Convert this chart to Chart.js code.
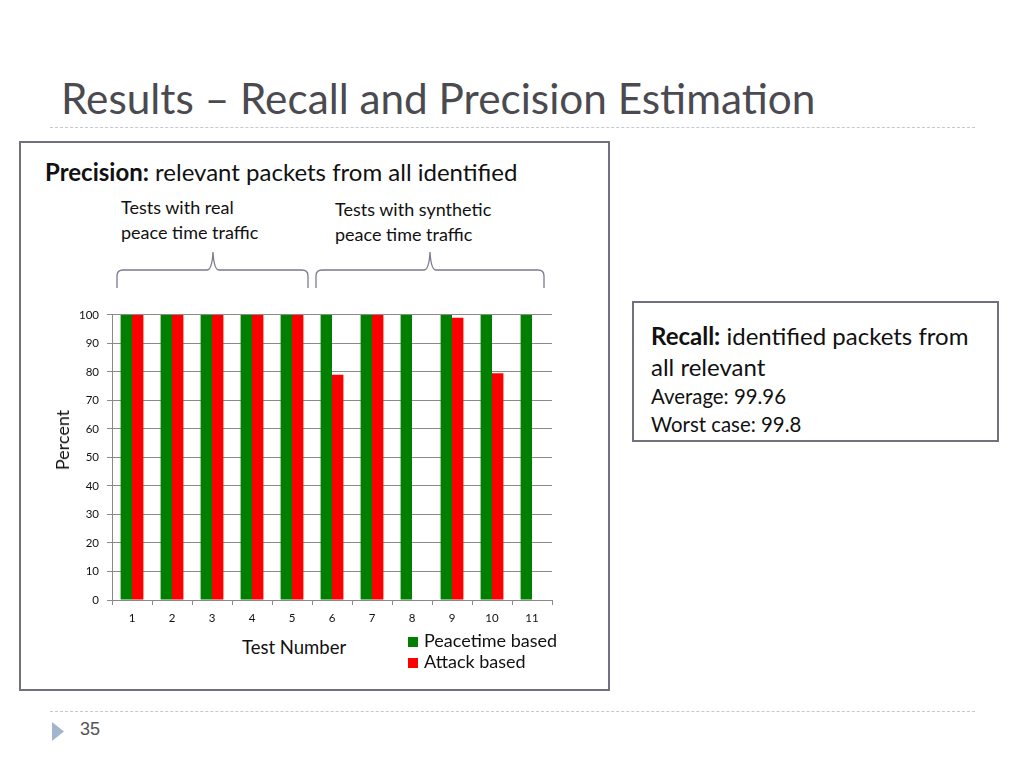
<!DOCTYPE html>
<html>
<head>
<meta charset="utf-8">
<script src="https://cdn.jsdelivr.net/npm/chart.js@4/dist/chart.umd.min.js"></script>
<style>
  body { margin: 0; background: #fff; font-family: Lato, "Open Sans", sans-serif; }
  #page { position: relative; width: 1024px; height: 768px; overflow: hidden; }
  .abs { position: absolute; white-space: nowrap; }
  #title { left: 61px; top: 72px; font-size: 42.3px; color: #4a4a50; }
  .dash { position: absolute; left: 50px; width: 925px; border-top: 1px dashed #c4c8d0; }
  .box { position: absolute; border: 2px solid #70707e; background: #fff; }
  #precision { left: 45px; top: 157px; font-size: 24px; color: #111; }
  .note { font-size: 18px; color: #111; line-height: 25px; }
  #recall { left: 651px; top: 320px; font-size: 24px; color: #111; line-height: 31px; }
  #recall .small { font-size: 20.4px; }
  #chartWrap { position: absolute; left: 20px; top: 300px; width: 560px; height: 330px; }
  #ytitle { left: 62px; top: 440px; font-size: 18px; color: #111; transform: translate(-50%, -50%) rotate(-90deg); }
  #xtitle { left: 242px; top: 636px; font-size: 18.5px; color: #111; }
  #legend { left: 408px; top: 630px; font-size: 18px; color: #111; line-height: 21px; }
  #legend span.sw { display: inline-block; width: 10px; height: 10px; margin-right: 6px; }
  #pagenum { left: 80px; top: 719px; font-family: "Liberation Sans", Arial, sans-serif; font-size: 18px; color: #555; }
</style>
</head>
<body>
<div id="page">
  <div id="title" class="abs">Results – Recall and Precision Estimation</div>
  <div class="dash" style="top:127px"></div>

  <div class="box" style="left:19px; top:141px; width:587px; height:546px;"></div>
  <div id="precision" class="abs"><b>Precision:</b> relevant packets from all identified</div>
  <div class="abs note" style="left:121px; top:195px;">Tests with real<br>peace time traffic</div>
  <div class="abs note" style="left:335px; top:197px;">Tests with synthetic<br>peace time traffic</div>
  <svg class="abs" style="left:0; top:0;" width="1024" height="768">
    <path d="M117 288 L117 276 Q117 270 123 270 L207 270 Q212 270 213 252 Q214 270 219 270 L302 270 Q308 270 308 276 L308 288"
          fill="none" stroke="#7a7a90" stroke-width="1.3"/>
    <path d="M316 288 L316 276 Q316 270 322 270 L424 270 Q429 270 430 252 Q431 270 436 270 L538 270 Q544 270 544 276 L544 288"
          fill="none" stroke="#7a7a90" stroke-width="1.3"/>
    <polygon points="52,722 52,741 64,731.5" fill="#a3b5cc"/>
  </svg>

  <div id="chartWrap"><canvas id="precisionChart"></canvas></div>
  <div id="ytitle" class="abs">Percent</div>
  <div id="xtitle" class="abs">Test Number</div>
  <div id="legend" class="abs"></div>

  <div class="box" style="left:632px; top:301px; width:363px; height:137px;"></div>
  <div id="recall" class="abs"><b>Recall:</b> identified packets from<br>all relevant
    <div class="small" style="line-height:29px; margin-top:0px;">Average: 99.96</div>
    <div class="small" style="line-height:26px;">Worst case: 99.8</div></div>

  <div class="dash" style="top:711px"></div>
  <div id="pagenum" class="abs">35</div>
</div>

<script>
// test numbers on the x axis
const testNumbers = ['1', '2', '3', '4', '5', '6', '7', '8', '9', '10', '11'];
// precision per test, percent (null = no bar)
const peacetimeBased = [100, 100, 100, 100, 100, 100, 100, 100, 100, 100, 100];
const attackBased = [100, 100, 100, 100, 100, 79, 100, null, 99, 79.5, null];
const seriesNames = ['Peacetime based', 'Attack based'];
const seriesColors = ['#007f00', '#ff0000'];

function createChart() {
  const ctx = document.getElementById('precisionChart').getContext('2d');
  const tickFont = { family: 'Lato', size: 11.5 };

  return new Chart(ctx, {
    type: 'bar',
    data: {
      labels: testNumbers,
      datasets: [{
        label: seriesNames[0],
        data: peacetimeBased,
        backgroundColor: seriesColors[0]
      }, {
        label: seriesNames[1],
        data: attackBased,
        backgroundColor: seriesColors[1]
      }]
    },
    options: {
      responsive: true,
      maintainAspectRatio: false,
      animation: false,
      datasets: {
        bar: { barPercentage: 1, categoryPercentage: 0.57 }
      },
      layout: { padding: { top: 9, right: 28, left: 0, bottom: 0 } },
      scales: {
        x: {
          grid: { drawOnChartArea: false, tickLength: 5, color: '#8a8a8a' },
          border: { color: '#8a8a8a' },
          ticks: { color: '#111', font: tickFont, padding: 6 },
          afterFit: scale => { scale.height = 30; }
        },
        y: {
          min: 0,
          max: 100,
          ticks: { stepSize: 10, color: '#111', font: tickFont, padding: 8 },
          grid: { color: '#8a8a8a', tickLength: 5 },
          border: { color: '#8a8a8a' },
          afterFit: scale => { scale.width = 92; }
        }
      },
      plugins: {
        legend: { display: false },
        tooltip: { enabled: false }
      }
    }
  });
}

// legend built from the same series arrays
function buildLegend() {
  const el = document.getElementById('legend');
  el.innerHTML = seriesNames.map((name, i) =>
    `<div><span class="sw" style="background:${seriesColors[i]}"></span>${name}</div>`
  ).join('');
}

buildLegend();
createChart();
</script>
</body>
</html>
